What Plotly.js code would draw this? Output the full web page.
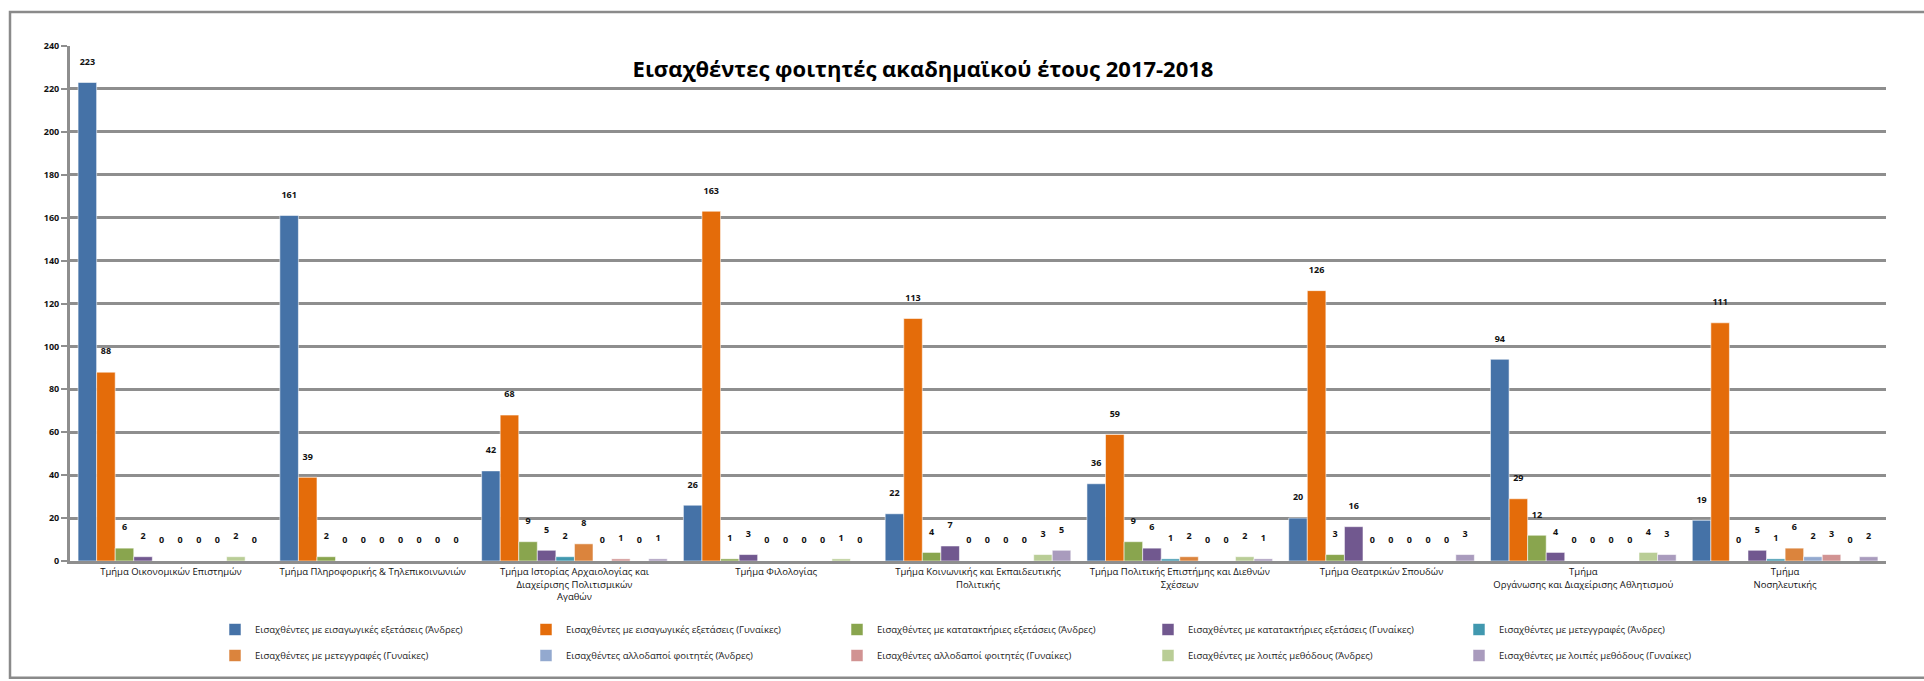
<!DOCTYPE html>
<html>
<head>
<meta charset="utf-8">
<script src="https://cdn.plot.ly/plotly-3.0.1.min.js"></script>
<style>
  html, body { margin: 0; padding: 0; background: #ffffff; }
  #chart { width: 1924px; height: 681px; }
</style>
</head>
<body>
<div id="chart"></div>
<script>
// Categories (departments)
const departments = [
  "Τμήμα Οικονομικών Επιστημών",
  "Τμήμα Πληροφορικής & Τηλεπικοινωνιών",
  "Τμήμα Ιστορίας Αρχαιολογίας και<br>Διαχείρισης Πολιτισμικών<br>Αγαθών",
  "Τμήμα Φιλολογίας",
  "Τμήμα Κοινωνικής και Εκπαιδευτικής<br>Πολιτικής",
  "Τμήμα Πολιτικής Επιστήμης και Διεθνών<br>Σχέσεων",
  "Τμήμα Θεατρικών Σπουδών",
  "Τμήμα<br>Οργάνωσης και Διαχείρισης Αθλητισμού",
  "Τμήμα<br>Νοσηλευτικής"
];

// Series names
const seriesNames = [
  "Εισαχθέντες με εισαγωγικές εξετάσεις (Άνδρες)",
  "Εισαχθέντες με εισαγωγικές εξετάσεις (Γυναίκες)",
  "Εισαχθέντες με κατατακτήριες εξετάσεις (Άνδρες)",
  "Εισαχθέντες με κατατακτήριες εξετάσεις (Γυναίκες)",
  "Εισαχθέντες με μετεγγραφές (Άνδρες)",
  "Εισαχθέντες με μετεγγραφές (Γυναίκες)",
  "Εισαχθέντες αλλοδαποί φοιτητές (Άνδρες)",
  "Εισαχθέντες αλλοδαποί φοιτητές (Γυναίκες)",
  "Εισαχθέντες με λοιπές μεθόδους (Άνδρες)",
  "Εισαχθέντες με λοιπές μεθόδους (Γυναίκες)"
];

// Series values (one per department)
const entranceMen      = [223, 161, 42, 26, 22, 36, 20, 94, 19];
const entranceWomen    = [88, 39, 68, 163, 113, 59, 126, 29, 111];
const placementMen     = [6, 2, 9, 1, 4, 9, 3, 12, 0];
const placementWomen   = [2, 0, 5, 3, 7, 6, 16, 4, 5];
const transferMen      = [0, 0, 2, 0, 0, 1, 0, 0, 1];
const transferWomen    = [0, 0, 8, 0, 0, 2, 0, 0, 6];
const foreignMen       = [0, 0, 0, 0, 0, 0, 0, 0, 2];
const foreignWomen     = [0, 0, 1, 0, 0, 0, 0, 0, 3];
const otherMen         = [2, 0, 0, 1, 3, 2, 0, 4, 0];
const otherWomen       = [0, 0, 1, 0, 5, 1, 3, 3, 2];

const seriesValues = [
  entranceMen, entranceWomen, placementMen, placementWomen,
  transferMen, transferWomen, foreignMen, foreignWomen, otherMen, otherWomen
];

const seriesColors = [
  "#4572A7", "#E46C0A", "#89A54E", "#71588F", "#4198AF",
  "#DB843D", "#93A9CF", "#D19392", "#B9CD96", "#A99BBD"
];

const yTicks = [0, 20, 40, 60, 80, 100, 120, 140, 160, 180, 200, 220, 240];

const FONT = "'Open Sans', 'Noto Sans', sans-serif";
const GRID = "#8e8e8e";

const traces = seriesNames.map((name, i) => ({
  type: "bar",
  name: name,
  x: departments,
  y: seriesValues[i],
  legend: i < 5 ? "legend" : "legend2",
  marker: { color: seriesColors[i], line: { color: "rgba(255,255,255,0.55)", width: 1 } },
  texttemplate: '%{y}<br><span style="color:rgba(0,0,0,0)">.</span>',
  textposition: "outside",
  cliponaxis: false,
  constraintext: "none",
  textfont: { family: FONT, size: 9, color: "#111111", weight: "bold" },
  hoverinfo: "x+y+name"
}));

// plot area geometry (px) used for the outer frame placement
const ML = 70, MR = 38, MT = 46, MB = 119, W = 1924, H = 681;
const PW = W - ML - MR, PH = H - MT - MB;

const legendBase = {
  orientation: "h",
  x: (215 - ML) / PW,
  xanchor: "left",
  yanchor: "top",
  entrywidth: 266,
  entrywidthmode: "pixels",
  itemwidth: 30,
  font: { family: FONT, size: 9.5, color: "#222222" },
  bgcolor: "rgba(0,0,0,0)",
  traceorder: "normal"
};

const layout = {
  width: W,
  height: H,
  margin: { l: ML, r: MR, t: MT, b: MB, pad: 0 },
  paper_bgcolor: "#ffffff",
  plot_bgcolor: "#ffffff",
  barmode: "group",
  bargap: 0.08,
  bargroupgap: 0,
  font: { family: FONT, color: "#111111" },
  title: {
    text: "Εισαχθέντες φοιτητές ακαδημαϊκού έτους 2017-2018",
    font: { family: FONT, size: 22, color: "#000000", weight: "bold" },
    x: (923 - ML) / PW,
    xref: "paper",
    xanchor: "center",
    y: 1 - 69 / H,
    yref: "container",
    yanchor: "middle"
  },
  xaxis: {
    type: "category",
    tickangle: 0,
    showgrid: false,
    showline: true,
    linecolor: GRID,
    linewidth: 3,
    ticks: "",
    tickfont: { family: FONT, size: 9.5, color: "#111111" },
    automargin: false,
    fixedrange: true
  },
  yaxis: {
    range: [0, 240],
    tickvals: yTicks,
    ticktext: yTicks.map(String),
    showgrid: true,
    gridcolor: GRID,
    gridwidth: 3,
    zeroline: false,
    showline: true,
    linecolor: GRID,
    linewidth: 3,
    ticks: "outside",
    ticklen: 6,
    tickwidth: 2,
    tickcolor: GRID,
    tickfont: { family: FONT, size: 9, color: "#111111", weight: "bold" },
    automargin: false,
    fixedrange: true
  },
  showlegend: true,
  legend: Object.assign({}, legendBase, { y: -(615 - (H - MB)) / PH }),
  legend2: Object.assign({}, legendBase, { y: -(641 - (H - MB)) / PH }),
  shapes: [{
    type: "rect",
    xref: "paper", yref: "paper",
    x0: (10 - ML) / PW, x1: (1940 - ML) / PW,
    y0: -(679 - (H - MB)) / PH, y1: 1 + (MT - 12) / PH,
    line: { color: "#8a8a8a", width: 2.5 },
    fillcolor: "rgba(0,0,0,0)",
    layer: "below"
  }]
};

Plotly.newPlot("chart", traces, layout, { displayModeBar: false, staticPlot: true });
</script>
</body>
</html>
